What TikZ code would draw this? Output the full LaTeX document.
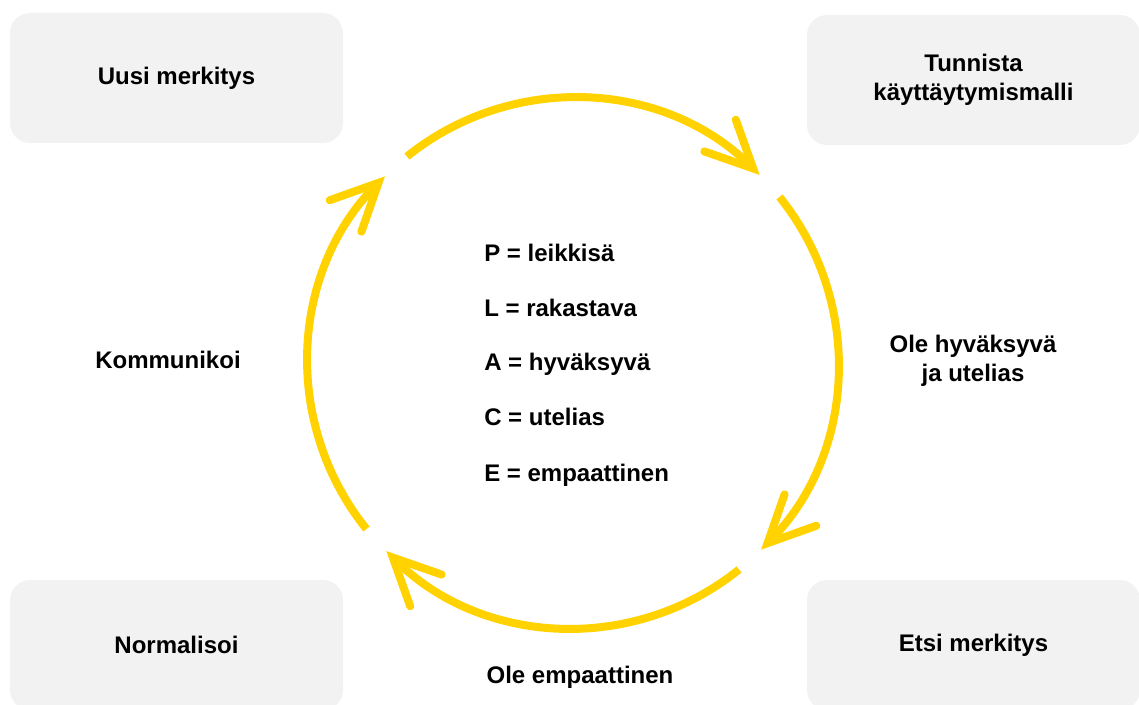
\documentclass[tikz,border=0pt]{standalone}
\usepackage{fontspec}
\setmainfont{Liberation Sans}
\usetikzlibrary{arrows.meta}
\definecolor{cycyellow}{RGB}{255,210,0}
\definecolor{boxgray}{RGB}{242,242,242}
\begin{document}
\begin{tikzpicture}[x=0.75pt,y=0.75pt,
  lbl/.style={font=\fontsize{18}{22}\selectfont\bfseries, align=center, inner sep=0pt, text=black},
  card/.style={lbl, fill=boxgray, rounded corners=15pt, minimum width=249.75pt, minimum height=97.5pt},
  cyc/.style={draw=cycyellow, line width=6pt, -{Straight Barb[length=35pt,width=33.5pt,line cap=round,line join=miter]}},
  item/.style={font=\fontsize{18}{22}\selectfont\bfseries, anchor=base west, inner sep=0pt, text=black}]
\useasboundingbox (0,0) rectangle (1139,704);
% corner cards
\node[card] (tl) at (176.5,626) {Uusi merkitys};
\node[card] (tr) at (973.5,624) {Tunnista\\käyttäytymismalli};
\node[card] (bl) at (176.5,59) {Normalisoi};
\node[card] (br) at (973.5,59) {Etsi merkitys};
% side labels
\node[lbl] (left) at (168,344) {Kommunikoi};
\node[lbl] (right) at (973,343) {Ole hyväksyvä\\ja utelias};
\node[lbl] (bottom) at (580,27) {Ole empaattinen};
% centre list
\node[item] (p) at (484,442) {P = leikkisä};
\node[item] (l) at (484,387.5) {L = rakastava};
\node[item] (a) at (484,333) {A = hyväksyvä};
\node[item] (cc) at (484,278) {C = utelias};
\node[item] (e) at (484,223) {E = empaattinen};
% cycle
\coordinate (c) at (573,341);
\foreach \k in {0,1,2,3}{
  \pgfmathsetmacro{\sa}{128.8-90*\k}
  \pgfmathsetmacro{\ea}{45.2-90*\k}
  \draw[cyc] ([shift={(\sa:198.75pt)}]c) arc[start angle=\sa, end angle=\ea, radius=198.75pt];
}
\end{tikzpicture}
\end{document}
